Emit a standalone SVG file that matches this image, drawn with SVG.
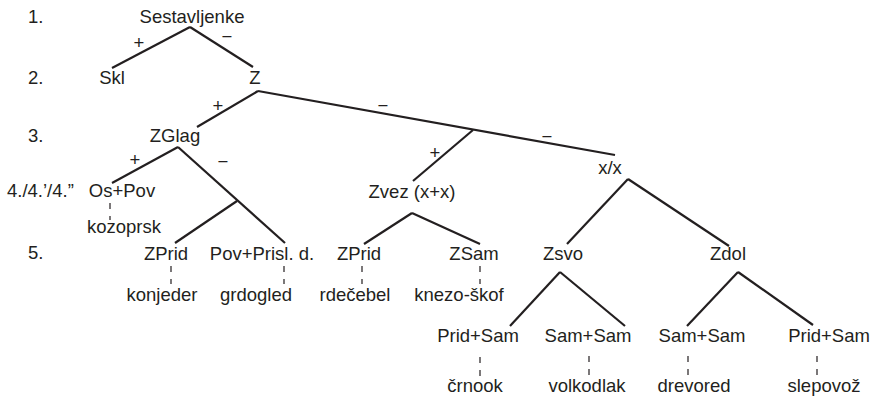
<svg xmlns="http://www.w3.org/2000/svg" width="874" height="399" viewBox="0 0 874 399">
<style>
text{font-family:"Liberation Sans",Arial,sans-serif;font-size:18.5px;fill:#231f20;text-anchor:middle}
.lv{text-anchor:start}
.e line{stroke:#231f20;stroke-width:2.2;stroke-linecap:butt}
.d line{stroke:#231f20;stroke-width:1.2;stroke-dasharray:6 7}
</style>
<rect width="874" height="399" fill="#fff"/>
<g id="levels">
<text class="lv" x="28" y="23">1.</text>
<text class="lv" x="28" y="84">2.</text>
<text class="lv" x="28" y="142">3.</text>
<text class="lv" x="7" y="197">4./4.’/4.”</text>
<text class="lv" x="28" y="259">5.</text>
</g>
<g class="e" id="connectors">
<line x1="190" y1="27" x2="112" y2="68"/>
<line x1="190" y1="27" x2="253" y2="67"/>
<line x1="258" y1="91" x2="197" y2="127"/>
<line x1="258" y1="91" x2="615" y2="155"/>
<line x1="473" y1="130" x2="413" y2="181"/>
<line x1="178" y1="147" x2="112" y2="183"/>
<line x1="178" y1="147" x2="285" y2="243"/>
<line x1="237" y1="201" x2="175" y2="243"/>
<line x1="412" y1="213" x2="364" y2="244"/>
<line x1="412" y1="213" x2="480" y2="244"/>
<line x1="628" y1="179" x2="567" y2="244"/>
<line x1="628" y1="179" x2="729" y2="246"/>
<line x1="560" y1="272" x2="510" y2="326"/>
<line x1="560" y1="272" x2="625" y2="326"/>
<line x1="738" y1="272" x2="687" y2="326"/>
<line x1="738" y1="272" x2="813" y2="325"/>
</g>
<g class="d" id="dashed">
<line x1="110" y1="203" x2="110" y2="220"/>
<line x1="171" y1="266" x2="171" y2="284"/>
<line x1="284" y1="266" x2="284" y2="284"/>
<line x1="362" y1="266" x2="362" y2="284"/>
<line x1="480" y1="266" x2="480" y2="284"/>
<line x1="480" y1="357" x2="480" y2="377"/>
<line x1="589" y1="356" x2="589" y2="376"/>
<line x1="688" y1="356" x2="688" y2="376"/>
<line x1="817" y1="356" x2="817" y2="376"/>
</g>
<g id="signs">
<text x="139" y="49">+</text>
<text x="227" y="43">−</text>
<text x="218" y="112">+</text>
<text x="383" y="112">−</text>
<text x="547" y="143">−</text>
<text x="435" y="159">+</text>
<text x="135" y="166">+</text>
<text x="223" y="168">−</text>
</g>
<g id="n-root"><text x="192" y="23">Sestavljenke</text></g>
<g id="n-skl"><text x="112" y="84">Skl</text></g>
<g id="n-z"><text x="255" y="84">Z</text></g>
<g id="n-zglag"><text x="175" y="142">ZGlag</text></g>
<g id="n-ospov"><text x="122" y="197">Os+Pov</text></g>
<g id="n-kozoprsk"><text x="124" y="233">kozoprsk</text></g>
<g id="n-zvez"><text x="412" y="198">Zvez (x+x)</text></g>
<g id="n-xx"><text x="610" y="174">x/x</text></g>
<g id="n-zprid1"><text x="166" y="260">ZPrid</text></g>
<g id="n-povprisl"><text x="262" y="260">Pov+Prisl. d.</text></g>
<g id="n-zprid2"><text x="359" y="260">ZPrid</text></g>
<g id="n-zsam"><text x="474" y="260">ZSam</text></g>
<g id="n-zsvo"><text x="563" y="260">Zsvo</text></g>
<g id="n-zdol"><text x="728" y="260">Zdol</text></g>
<g id="n-konjeder"><text x="162" y="301">konjeder</text></g>
<g id="n-grdogled"><text x="256" y="301">grdogled</text></g>
<g id="n-rdecebel"><text x="355" y="301">rdečebel</text></g>
<g id="n-knezoskof"><text x="459" y="301">knezo-škof</text></g>
<g id="n-pridsam1"><text x="478" y="342">Prid+Sam</text></g>
<g id="n-samsam1"><text x="588" y="342">Sam+Sam</text></g>
<g id="n-samsam2"><text x="702" y="342">Sam+Sam</text></g>
<g id="n-pridsam2"><text x="829" y="342">Prid+Sam</text></g>
<g id="n-crnook"><text x="475" y="392">črnook</text></g>
<g id="n-volkodlak"><text x="587" y="392">volkodlak</text></g>
<g id="n-drevored"><text x="694" y="392">drevored</text></g>
<g id="n-slepovoz"><text x="824" y="392">slepovož</text></g>
</svg>
